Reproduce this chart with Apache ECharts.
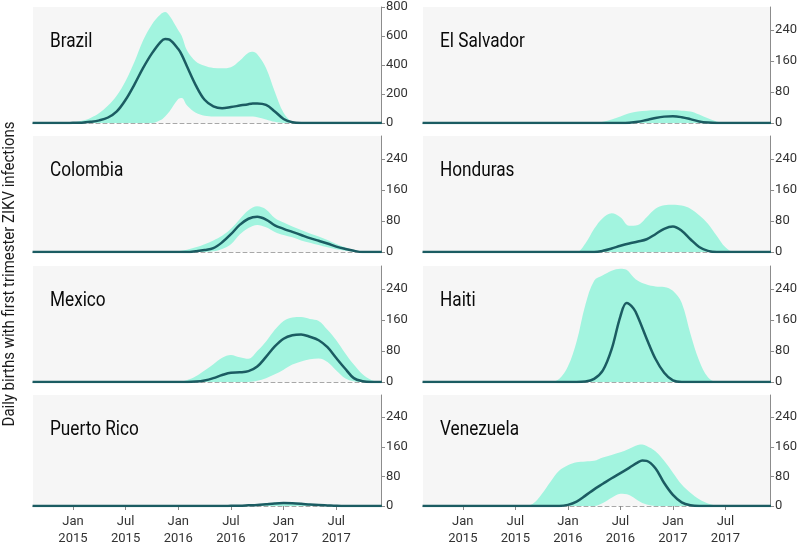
<!DOCTYPE html>
<html>
<head>
<meta charset="utf-8">
<script src="https://cdn.jsdelivr.net/npm/echarts@6/dist/echarts.min.js"></script>
<style>
html,body{margin:0;padding:0;background:#fff;}
#c{width:800px;height:547px;}
</style>
</head>
<body>
<div id="c"></div>
<script>
// x values are months since Jan 2015 (0 = Jan 2015)
const countries = ['Brazil','El Salvador','Colombia','Honduras','Mexico','Haiti','Puerto Rico','Venezuela'];
const xTickValues = [0, 6, 12, 18, 24, 30];
const xTickLabels = ['Jan\n2015','Jul\n2015','Jan\n2016','Jul\n2016','Jan\n2017','Jul\n2017'];
const yTicksBrazil = [0, 200, 400, 600, 800];
const yTicksOther = [0, 80, 160, 240];

const brazilX   = [-4.6,-1,0,1,2,3,4,5,6,7,8,9,10,10.5,11,12,12.4,13,14,15,16,17,18,19,20,20.5,21,22,23,24,25,26,35.2];
const brazilMed = [0,0,1,2,8,18,38,80,160,265,380,480,560,580,575,510,470,390,260,160,115,102,110,120,130,134,135,125,80,28,5,0,0];
const brazilHi  = [0,0,4,15,35,69,120,190,290,420,570,680,750,765,740,640,600,500,425,395,380,378,385,430,485,492,475,380,215,70,8,0,0];
const brazilLo  = [0,0,0,0,0,0,0,0,0,0,0,0,20,45,80,165,172,120,70,50,45,45,45,45,45,45,40,25,8,0,0,0,0];

const salvadorX   = [-4.6,15,16,17,18,19,20,21,22,23,24,25,26,27,28,29,30,31,35.2];
const salvadorMed = [0,0,0,0,0,0.5,3,8,13,16.5,17.5,15,10,4,1,0,0,0,0];
const salvadorHi  = [0,0,3,9,17,25,30,32,33,33,33,32,30,22,12,4,0,0,0];
const salvadorLo  = [0,0,0,0,0,0,0,0,0,0,0,0,0,0,0,0,0,0,0];

const colombiaX   = [-4.6,11,12,13,14,15,16,17,18,19,20,21,22,23,24,25,26,27,28,29,30,31,32,33,35.2];
const colombiaMed = [0,0,0,0,2,5,10,25,46,70,86,91,84,69,60,52,44,36,29,22,14,8,3,0,0];
const colombiaHi  = [0,0,2,6,12,20,30,42,60,85,108,118,110,88,76,66,57,48,40,31,21,12,5,1,0];
const colombiaLo  = [0,0,0,0,0,0,2,8,20,45,62,70,64,52,44,38,30,24,18,12,7,3,1,0,0];

const hondurasX   = [-4.6,12,13,14,15,16,17,18,19,20,21,22,23,24,25,26,27,28,29,30,31,35.2];
const hondurasMed = [0,0,0,0,0,3,9,16,22,27,33,46,60,66,55,33,13,3,0,0,0,0];
const hondurasHi  = [0,0,0,22,60,88,100,90,68,70,90,112,121,122,120,112,95,73,42,12,0,0];
const hondurasLo  = [0,0,0,0,0,0,0,0,0,0,0,0,0,0,0,0,0,0,0,0,0,0];

const mexicoX   = [-4.6,12,13,14,15,16,17,18,19,20,21,22,23,24,25,26,27,28,29,30,31,32,33,34,35,35.2];
const mexicoMed = [0,0,0,1,4,10,18,24,25,28,40,65,92,112,121,123,117,108,90,62,35,10,2,0,0,0];
const mexicoHi  = [0,0,5,15,30,46,63,70,64,60,80,105,135,158,167,168,163,158,135,108,75,45,20,5,0,0];
const mexicoLo  = [0,0,0,0,0,0,0,0,0,0,3,10,20,32,45,53,59,61,52,30,10,2,0,0,0,0];

const haitiX   = [-4.6,9,10,11,12,13,14,15,16,17,18,18.7,19.5,20,21,22,23,24,25,26,27,28,29,35.2];
const haitiMed = [0,0,0,0,0,0,1,8,30,85,170,204,190,168,112,60,24,4,0,0,0,0,0,0];
const haitiHi  = [0,0,0,8,40,105,200,262,276,288,293,290,271,262,252,247,246,236,205,125,55,12,0,0];
const haitiLo  = [0,0,0,0,0,0,0,0,0,0,0,0,0,0,0,0,0,0,0,0,0,0,0,0];

const puertoX   = [-4.6,17,18,19,20,21,22,23,24,25,26,27,28,29,30,31,35.2];
const puertoMed = [0,0,0.5,1,2,3,5,7,8,7.5,6,4,2.5,1.5,0.5,0,0];
const puertoHi  = [0,0,1,2,3.5,5,7,9,10,9.5,8,6,4,2.5,1,0,0];
const puertoLo  = [0,0,0,0,0,0,0,0,0,0,0,0,0,0,0,0,0];

const venezuelaX   = [-4.6,7,8,9,10,11,12,13,14,15,16,17,18,19,20,20.5,21,22,23,24,25,26,27,28,29,30,35.2];
const venezuelaMed = [0,0,0,0,0,0,3,12,28,45,60,75,89,103,118,123,122,102,62,30,10,2,0,0,0,0,0];
const venezuelaHi  = [0,0,6,32,65,95,110,118,120,122,131,138,145,155,165,166,162,148,122,90,58,36,18,7,1,0,0];
const venezuelaLo  = [0,0,0,0,0,0,0,0,0,0,8,22,33,30,15,8,4,0,0,0,0,0,0,0,0,0,0];

const panelData = [
  [brazilX, brazilMed, brazilLo, brazilHi],
  [salvadorX, salvadorMed, salvadorLo, salvadorHi],
  [colombiaX, colombiaMed, colombiaLo, colombiaHi],
  [hondurasX, hondurasMed, hondurasLo, hondurasHi],
  [mexicoX, mexicoMed, mexicoLo, mexicoHi],
  [haitiX, haitiMed, haitiLo, haitiHi],
  [puertoX, puertoMed, puertoLo, puertoHi],
  [venezuelaX, venezuelaMed, venezuelaLo, venezuelaHi]
];

const chart = echarts.init(document.getElementById('c'), null, {renderer: 'canvas'});
const colLeft = [33, 423];
const colWidth = [348, 349];
const rowTop = [7, 136, 266, 395];
const panelH = 116;
const BG = '#f6f6f6';
const FONT = 'Roboto';

const grid = [], xAxis = [], yAxis = [], series = [], graphic = [];
countries.forEach((name, i) => {
  const r = Math.floor(i / 2), c = i % 2;
  const bottomRow = r === 3;
  grid.push({left: colLeft[c], top: rowTop[r], width: colWidth[c], height: panelH,
    show: true, backgroundColor: BG, borderWidth: 0, containLabel: false});
  xAxis.push({type: 'value', gridIndex: i, min: -4.55, max: 35.1, z: 4,
    axisLine: {show: true, onZero: false, lineStyle: {color: '#a8a8a8', type: [4, 3], width: 1}},
    axisTick: {show: bottomRow, length: 4, lineStyle: {color: '#888'}, customValues: xTickValues},
    axisLabel: {show: bottomRow, customValues: xTickValues, color: '#333', fontFamily: FONT, fontSize: 13,
      lineHeight: 17, margin: 7,
      formatter: v => { const k = xTickValues.indexOf(v); return k >= 0 ? xTickLabels[k] : ''; }},
    splitLine: {show: false}});
  const isBrazil = i === 0;
  const ticks = isBrazil ? yTicksBrazil : yTicksOther;
  yAxis.push({type: 'value', gridIndex: i, position: 'right', min: 0, max: isBrazil ? 800 : 300,
    axisLine: {show: true, onZero: false, lineStyle: {color: '#8c8c8c', width: 1}},
    axisTick: {show: true, length: 4, lineStyle: {color: '#8c8c8c'}, customValues: ticks},
    axisLabel: {customValues: ticks, color: '#333', fontFamily: FONT, fontSize: 13, margin: 5},
    splitLine: {show: false}});
  const [xs, med, lo, hi] = panelData[i];
  // upper envelope filled with the band colour
  series.push({type: 'line', xAxisIndex: i, yAxisIndex: i, smooth: 0.35,
    symbol: 'none', lineStyle: {width: 0, opacity: 0}, silent: true, z: 2,
    areaStyle: {color: '#a2f4df', opacity: 1},
    data: xs.map((x, k) => [x, hi[k]])});
  // lower envelope filled with the panel background, leaving the band between
  series.push({type: 'line', xAxisIndex: i, yAxisIndex: i, smooth: 0.35,
    symbol: 'none', lineStyle: {width: 0, opacity: 0}, silent: true, z: 3,
    areaStyle: {color: BG, opacity: 1},
    data: xs.map((x, k) => [x, lo[k]])});
  series.push({type: 'line', xAxisIndex: i, yAxisIndex: i, smooth: 0.35, symbol: 'none', z: 5,
    lineStyle: {color: '#1b5c62', width: 2.5},
    data: xs.map((x, k) => [x, med[k]])});
  graphic.push({type: 'text', x: colLeft[c] + 17, y: rowTop[r] + 25, scaleX: 0.86, z: 10,
    style: {text: name, fontFamily: FONT, fontSize: 20, fill: '#0a0a0a', textVerticalAlign: 'top'}});
});

graphic.push({type: 'text', x: 10, y: 274, rotation: Math.PI / 2, scaleX: 0.88,
  style: {text: 'Daily births with first trimester ZIKV infections', fontFamily: FONT,
    fontSize: 17, fill: '#1a1a1a', textAlign: 'center', textVerticalAlign: 'middle'}});

chart.setOption({
  animation: false,
  backgroundColor: '#ffffff',
  grid, xAxis, yAxis, series, graphic
});
</script>
</body>
</html>
